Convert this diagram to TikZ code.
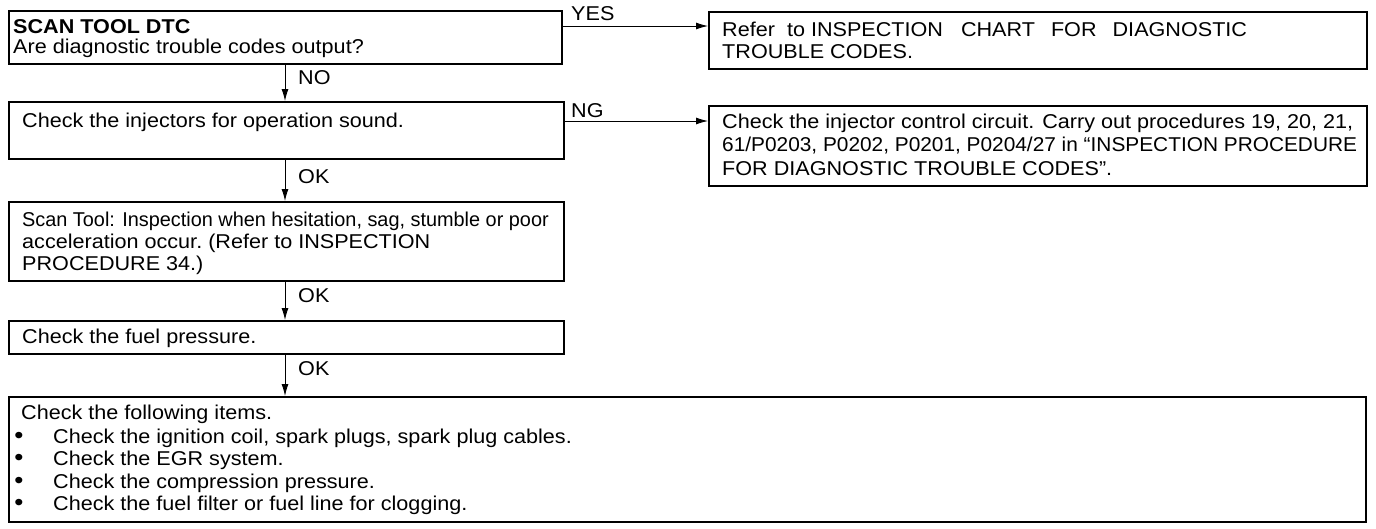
\documentclass[tikz,border=0pt]{standalone}
\usepackage{fontspec}
\setmainfont{Liberation Sans}[FakeStretch=1.08]
\usetikzlibrary{arrows.meta}
\begin{document}
\begin{tikzpicture}[x=1pt,y=-1pt,
  box/.style={draw,line width=1.7pt,inner sep=0pt,anchor=north west},
  tx/.style={anchor=base west,inner sep=0pt,font=\fontsize{20}{24}\selectfont},
  lab/.style={anchor=base west,inner sep=0pt,font=\fontsize{20}{24}\selectfont},
  dot/.style={anchor=base,inner sep=0pt,font=\fontsize{24}{24}\selectfont},
  arr/.style={line width=0.9pt,-{Latex[length=12pt,width=7pt]}}]
\useasboundingbox[fill=white] (0,0) rectangle (1376,528);
% boxes
\node[box,minimum width=553pt,minimum height=53pt] (b1) at (8,10) {};
\node[box,minimum width=658pt,minimum height=57pt] (r1) at (708,11) {};
\node[box,minimum width=555pt,minimum height=57pt] (b2) at (8,101) {};
\node[box,minimum width=658pt,minimum height=80pt] (r2) at (708,105) {};
\node[box,minimum width=555pt,minimum height=79pt] (b3) at (8,201) {};
\node[box,minimum width=555pt,minimum height=33pt] (b4) at (8,320) {};
\node[box,minimum width=1357pt,minimum height=125pt] (b5) at (8,396) {};
% texts
\node[tx,font=\fontsize{20}{24}\selectfont\bfseries] (t1a) at (13,33) {SCAN TOOL DTC};
\node[tx] (t1b) at (13,53) {Are diagnostic trouble codes output?};
\node[tx] (r1a) at (722,36) {Refer\hspace{12pt}to INSPECTION\hspace{18pt}CHART\hspace{16pt}FOR\hspace{16pt}DIAGNOSTIC};
\node[tx] (r1b) at (722,58) {TROUBLE CODES.};
\node[tx] (t2a) at (22,127) {Check the injectors for operation sound.};
\node[tx] (r2a) at (722,128) {Check the injector control circuit. Carry out procedures 19, 20, 21,};
\node[tx] (r2b) at (722,151) {\scalebox{0.965}[1]{61/P0203, P0202, P0201, P0204/27 in “INSPECTION PROCEDURE}};
\node[tx] (r2c) at (722,175) {FOR DIAGNOSTIC TROUBLE CODES”.};
\node[tx] (t3a) at (22,226) {\scalebox{0.92}[1]{Scan Tool: Inspection when hesitation, sag, stumble or poor}};
\node[tx] (t3b) at (22,248) {acceleration\hspace{6pt}occur.\hspace{6pt}(Refer\hspace{6pt}to INSPECTION};
\node[tx] (t3c) at (22,270) {PROCEDURE\hspace{6pt}34.)};
\node[tx] (t4a) at (22,343) {Check the fuel pressure.};
\node[tx] (t5a) at (21,419) {Check the following items.};
\node[dot] (u1) at (19,443) {•}; \node[tx] (t5b) at (53,443) {Check the ignition coil, spark plugs, spark plug cables.};
\node[dot] (u2) at (19,465) {•}; \node[tx] (t5c) at (53,465) {Check the EGR system.};
\node[dot] (u3) at (19,488) {•}; \node[tx] (t5d) at (53,488) {Check the compression pressure.};
\node[dot] (u4) at (19,510) {•}; \node[tx] (t5e) at (53,510) {Check the fuel filter or fuel line for clogging.};
% connectors
\coordinate (cx) at (285,0);
\coordinate (cy1) at (0,26);
\coordinate (cy2) at (0,121);
\draw[arr] (b1.east |- cy1) -- (r1.west |- cy1);
\draw[arr] (b2.east |- cy2) -- (r2.west |- cy2);
\draw[arr] (b1.south -| cx) -- (b2.north -| cx);
\draw[arr] (b2.south -| cx) -- (b3.north -| cx);
\draw[arr] (b3.south -| cx) -- (b4.north -| cx);
\draw[arr] (b4.south -| cx) -- (b5.north -| cx);
% labels
\node[lab] (lyes) at (571,20) {YES};
\node[lab] (lng) at (571,117) {NG};
\node[lab] (lno) at (298,84) {NO};
\node[lab] (lok1) at (298,183) {OK};
\node[lab] (lok2) at (298,302) {OK};
\node[lab] (lok3) at (298,375) {OK};
\end{tikzpicture}
\end{document}
